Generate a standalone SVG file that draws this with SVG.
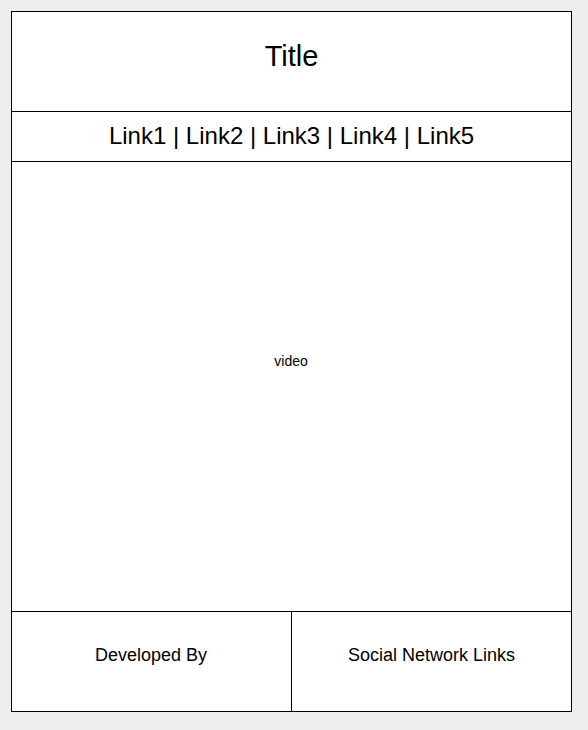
<svg xmlns="http://www.w3.org/2000/svg" width="588" height="730" viewBox="0 0 588 730">
<style>
.box{fill:#ffffff;stroke:#000000;stroke-width:1}
.ln{stroke:#000000;stroke-width:1;fill:none}
text{font-family:"Liberation Sans",Arial,sans-serif;fill:#000000;text-anchor:middle}
</style>
<rect x="0" y="0" width="588" height="730" fill="#eeeeee"/>
<g id="page">
<rect class="box" x="11.5" y="11.5" width="560" height="700"/>
</g>
<g id="title">
<text x="291.5" y="66" font-size="29">Title</text>
</g>
<g id="nav">
<text x="291.5" y="144" font-size="24">Link1 | Link2 | Link3 | Link4 | Link5</text>
</g>
<g id="video">
<text x="291" y="366" font-size="14">video</text>
</g>
<g id="developed">
<text x="151" y="661" font-size="18">Developed By</text>
</g>
<g id="social">
<text x="431.5" y="661" font-size="18">Social Network Links</text>
</g>
<g id="connectors">
<line class="ln" x1="11.5" y1="111.5" x2="571.5" y2="111.5"/>
<line class="ln" x1="11.5" y1="161.5" x2="571.5" y2="161.5"/>
<line class="ln" x1="11.5" y1="611.5" x2="571.5" y2="611.5"/>
<line class="ln" x1="291.5" y1="611.5" x2="291.5" y2="711.5"/>
</g>
</svg>
